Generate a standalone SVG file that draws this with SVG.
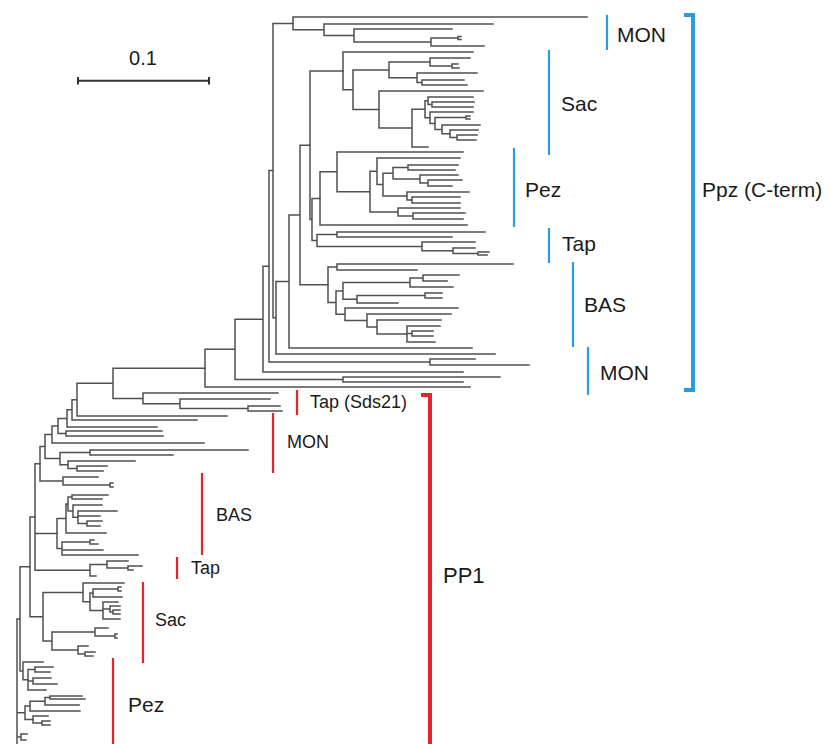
<svg xmlns="http://www.w3.org/2000/svg" width="829" height="744" viewBox="0 0 829 744">
<style>
.br{fill:none;stroke:#505050;stroke-width:1.5;stroke-linecap:square}
.bb{fill:none;stroke:#2a9de0;stroke-width:2.2}
.rb{fill:none;stroke:#e4232b;stroke-width:2.2}
.bk{fill:none;stroke-width:4}
.t{font-family:"Liberation Sans",Arial,sans-serif;fill:#1a1a1a}
.tb{font-size:21px}
.tr{font-size:18px}
</style>
<rect width="829" height="744" fill="#fff"/>
<g id="connectors">
<path class="br" d="M458 36.5V39.5M458 36.5H461M458 39.5H461M431 38V46M431 38H458M431 46H484M354 29V42M354 29H452M354 42H431M324 24V35.5M324 24H493M324 35.5H354M293 17V29.75M293 17H587M293 29.75H324"/>
<path class="br" d="M452 64V68M452 64H458M452 68H459M430 58V66M430 58H470M430 66H452M422 80V85M422 80H464M422 85H467M417 73V82.5M417 73H477M417 82.5H422M389 62V77.75M389 62H430M389 77.75H417M432 102V107M432 102H474M432 107H473M428 97V104.5M428 97H473M428 104.5H432M466 116V119M466 116H470M466 119H470M457 135V140M457 135H477M457 140H476M450 130V137.5M450 130H478M450 137.5H457M442 125V133.75M442 125H480M442 133.75H450M435 117.5V129.4M435 117.5H466M435 129.4H442M430 112V123.45M430 112H473M430 123.45H435M425 100.75V117.7M425 100.75H428M425 117.7H430M412 109.2V147M412 109.2H425M412 147H428M379 91V128.1M379 91H483M379 128.1H412M353 69.9V109.6M353 69.9H389M353 109.6H379M343 52V89.75M343 52H473M343 89.75H353"/>
<path class="br" d="M408 165V170M408 165H458M408 170H455M428 180V186M428 180H462M428 186H452M420 175V183M420 175H458M420 183H428M393 167.5V179M393 167.5H408M393 179H420M412 197V203M412 197H460M412 203H460M407 192V200M407 192H469M407 200H412M383 173.25V196M383 173.25H393M383 196H407M377 158V184.6M377 158H460M377 184.6H383M413 213V219M413 213H465M413 219H463M398 208V216M398 208H460M398 216H413M370 171.3V212M370 171.3H377M370 212H398M337 152V191.65M337 152H463M337 191.65H370M320 171.8V225M320 171.8H337M320 225H467"/>
<path class="br" d="M337 232V237M337 232H485M337 237H452M478 252V255M478 252H489M478 255H487M453 248V253.5M453 248H475M453 253.5H478M422 242V250.75M422 242H475M422 250.75H453M317 234.5V246.4M317 234.5H337M317 246.4H422M312 198.4V240.45M312 198.4H320M312 240.45H317M310 70.9V219.4M310 70.9H343M310 219.4H312"/>
<path class="br" d="M337 264V270M337 264H513M337 270H417M423 275V281M423 275H459M423 281H447M410 278V287M410 278H423M410 287H453M425 293V298M425 293H442M425 298H442M357 295.5V303M357 295.5H425M357 303H398M343 282.5V299.25M343 282.5H410M343 299.25H357M412 331V336M412 331H433M412 336H433M407 326V342M407 326H440M407 333.5H412M407 342H435M377 320V334M377 320H441M377 334H407M367 314V327M367 314H451M367 327H377M345 308V320.5M345 308H458M345 320.5H367M336 290.9V314.25M336 290.9H343M336 314.25H345M328 267V302.6M328 267H337M328 302.6H336"/>
<path class="br" d="M300 145.15V284.8M300 145.15H310M300 284.8H328M289 214.97V348M289 214.97H300M289 348H472M276 281.5V354M276 281.5H289M276 354H495M273 23.4V317.75M273 23.4H293M273 317.75H276M430 359V365M430 359H475M430 365H529M269 170.6V362M269 170.6H273M269 362H430M263 266.3V372M263 266.3H269M263 372H463M343 377V382M343 377H500M343 382H463M235 319.15V379.5M235 319.15H263M235 379.5H343M205 349.3V387M205 349.3H235M205 387H470"/>
<path class="br" d="M248 406V411M248 406H280M248 411H282M180 399V408.5M180 399H270M180 408.5H248M143 393V403.75M143 393H278M143 403.75H180M113 368.15V398.4M113 368.15H205M113 398.4H143M77 383.3V416M77 383.3H113M77 416H227M72 399.65V420M72 399.65H77M72 420H197M67 409.8V427M67 409.8H72M67 427H157M66 431V436M66 431H162M66 436H163M58 418.4V433.5M58 418.4H67M58 433.5H66M52 425.95V443M52 425.95H58M52 443H204M90 450V455M90 450H248M90 455H173M77 466V471M77 466H107M77 471H103M68 461V468.5M68 461H135M68 468.5H77M60 452.5V464.75M60 452.5H90M60 464.75H68M45 434.5V458.6M45 434.5H52M45 458.6H60"/>
<path class="br" d="M110 483V487M110 483H113M110 487H113M63 477V485M63 477H98M63 485H110M40 446.55V481M40 446.55H45M40 481H63M72 495V499M72 495H108M72 499H102M87 521V526M87 521H102M87 526H100M78 511V523.5M78 511H117M78 516H100M78 523.5H87M73 505V517.25M73 505H102M73 517.25H78M68 497V511.1M68 497H72M68 511.1H73M66 504V533M66 504H68M66 533H106M90 540V544M90 540H94M90 544H98M62 542V555M62 542H90M62 550H103M62 555H138M57 518.5V548.5M57 518.5H66M57 548.5H62"/>
<path class="br" d="M128 566V570M128 566H142M128 570H133M107 561V568M107 561H128M107 568H128M90 564.5V576M90 564.5H107M90 576H96M35 463.8V570.25M35 463.8H40M35 533.5H57M35 570.25H90"/>
<path class="br" d="M118 587V591M118 587H121M118 591H121M93 589V597M93 589H118M93 597H122M113 610V614M113 610H120M113 614H120M110 606V612M110 606H120M110 612H113M103 602V619M103 602H118M103 609H110M103 619H120M90 593V610.5M90 593H93M90 610.5H103M83 583V601.75M83 583H124M83 601.75H90M115 634V638M115 634H117M115 638H117M95 628V636M95 628H108M95 636H115M85 652V656M85 652H95M85 656H93M78 646V654M78 646H88M78 654H85M52 632V650M52 632H95M52 650H78M43 592.4V641M43 592.4H83M43 641H52M30 517V616.7M30 517H35M30 616.7H43"/>
<path class="br" d="M35 667V672M35 667H53M35 672H50M33 678V684M33 678H51M33 684H57M28 669.5V690M28 669.5H35M28 681H33M28 690H46M23 662V679.75M23 662H43M23 679.75H28M20 566.85V670.9M20 566.85H30M20 670.9H23M50 696V699M50 696H82M50 699H85M45 697.5V705M45 697.5H50M45 705H79M30 701.25V711M30 701.25H45M30 711H80M42 721V725M42 721H50M42 725H50M33 716V723M33 716H48M33 723H42M25 706.1V719.5M25 706.1H30M25 719.5H33M21 734V740M21 734H27M21 740H26M17 618.9V744M17 618.9H20M17 712.8H25M17 737H21"/>
</g>
<g id="scale">
<path d="M78 80.7H209M78 77V84.5M209 77V84.5" fill="none" stroke="#333" stroke-width="2"/>
<text class="t" x="143" y="65" font-size="20" text-anchor="middle">0.1</text>
</g>
<g id="ppz-mon1"><path class="bb" d="M607 15V50"/><text class="t tb" x="617" y="41.5">MON</text></g>
<g id="ppz-sac"><path class="bb" d="M549 50V155"/><text class="t tb" x="561" y="111">Sac</text></g>
<g id="ppz-pez"><path class="bb" d="M514 148V227"/><text class="t tb" x="525" y="197">Pez</text></g>
<g id="ppz-tap"><path class="bb" d="M549 228V263"/><text class="t tb" x="562" y="251">Tap</text></g>
<g id="ppz-bas"><path class="bb" d="M573 262V347"/><text class="t tb" x="584" y="311.5">BAS</text></g>
<g id="ppz-mon2"><path class="bb" d="M588 347V395"/><text class="t tb" x="600" y="380">MON</text></g>
<g id="ppz"><path class="bk" stroke="#2a9de0" d="M684 15H693V390H684"/><text class="t tb" x="702" y="197">Ppz (C-term)</text></g>
<g id="pp1-sds21"><path class="rb" d="M297 390V415"/><text class="t tr" x="310" y="408">Tap (Sds21)</text></g>
<g id="pp1-mon"><path class="rb" d="M273 413V473"/><text class="t tr" x="287" y="448">MON</text></g>
<g id="pp1-bas"><path class="rb" d="M202 473V555"/><text class="t tr" x="216" y="521">BAS</text></g>
<g id="pp1-tap"><path class="rb" d="M177 557V579"/><text class="t tr" x="191" y="574">Tap</text></g>
<g id="pp1-sac"><path class="rb" d="M143 582V663"/><text class="t tr" x="155" y="626">Sac</text></g>
<g id="pp1-pez"><path class="rb" d="M113 658V744"/><text class="t" x="128" y="712" font-size="21">Pez</text></g>
<g id="pp1"><path class="bk" stroke="#e4232b" d="M421 395H430V744"/><text class="t" x="443" y="583" font-size="22">PP1</text></g>
</svg>
